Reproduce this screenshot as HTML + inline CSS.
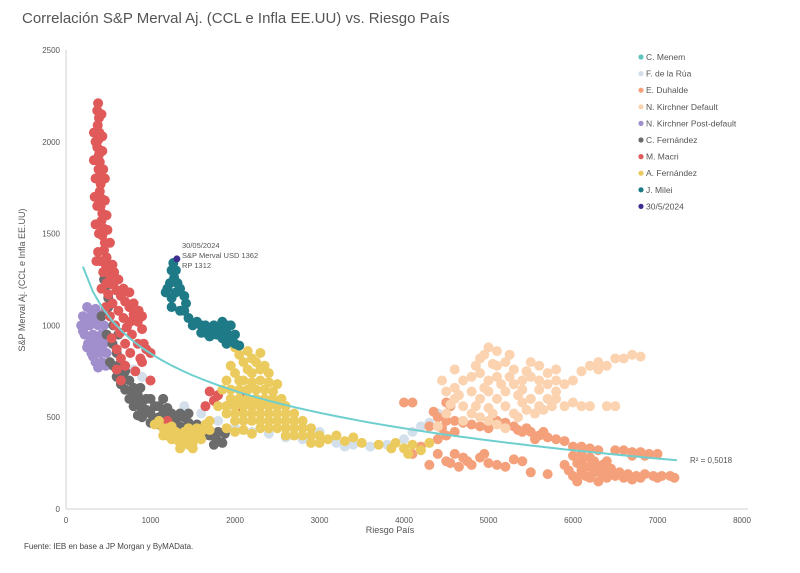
<!DOCTYPE html>
<html><head><meta charset="utf-8"><style>
body{margin:0;background:#fff;}
svg{display:block;font-family:"Liberation Sans",sans-serif;}
</style></head><body>
<svg id="chart" width="800" height="573">
<text x="22" y="23" font-size="15" fill="#555">Correlación S&amp;P Merval Aj. (CCL e Infla EE.UU) vs. Riesgo País</text>
<g id="axes"></g><g id="marks"></g><g id="legend"></g>
<text x="182" y="248" font-size="7.5" fill="#555">30/05/2024</text>
<text x="182" y="258" font-size="7.5" fill="#555">S&amp;P Merval USD 1362</text>
<text x="182" y="268" font-size="7.5" fill="#555">RP 1312</text>
<text x="690" y="463" font-size="8" fill="#555">R² = 0,5018</text>
<text x="390" y="533" font-size="9" fill="#555" text-anchor="middle">Riesgo País</text>
<text transform="translate(25,280) rotate(-90)" font-size="9" fill="#555" text-anchor="middle">S&amp;P Merval Aj. (CCL e Infla EE.UU)</text>
<text x="24" y="549" font-size="8" fill="#444">Fuente: IEB en base a JP Morgan y ByMAData.</text>
</svg>
<script>
const xTicks=[0,1000,2000,3000,4000,5000,6000,7000,8000];
const yTicks=[0,500,1000,1500,2000,2500];
const seriesNames=["C. Menem","F. de la Rúa","E. Duhalde","N. Kirchner Default","N. Kirchner Post-default","C. Fernández","M. Macri","A. Fernández","J. Milei","30/5/2024"];
const seriesColors=["#5fc4c0","#d3e0ec","#f4a07a","#fbd3b0","#a08fcc","#6b6b6b","#e05a5a","#ebcb5e","#1e7a86","#3c2f8f"];
const menem=[];
const rua=[[900,720],[1000,700],[800,760],[1400,560],[1600,520],[1800,480],[2000,440],[2200,420],[2400,410],[2600,390],[2800,380],[3200,360],[3400,350],[3600,340],[4000,380],[4100,420],[4200,450],[4300,470],[4400,520],[3000,420],[3800,350],[3300,340]];
const duhalde=[[4000,580],[4100,580],[4500,580],[4550,560],[4350,530],[4400,500],[4500,480],[4300,450],[4450,440],[4600,480],[4700,470],[4800,460],[4900,450],[5000,440],[5100,480],[5200,470],[5300,450],[5400,420],[5500,420],[5600,400],[5700,390],[5800,380],[5900,370],[6000,340],[6100,340],[6200,330],[6300,320],[6500,320],[6600,320],[6700,310],[6800,310],[6900,300],[7000,300],[6000,290],[6100,260],[6200,230],[6300,220],[6400,200],[6150,180],[6250,200],[6350,180],[6450,220],[6550,200],[6650,190],[6750,180],[6850,190],[6950,180],[7050,180],[7150,180],[5950,210],[6050,150],[6300,150],[6500,180],[6700,160],[4300,240],[4500,260],[4700,280],[4800,240],[4900,280],[5000,250],[5100,240],[5200,230],[5500,200],[5700,190],[4400,300],[4600,300],[4200,340],[4100,300],[5300,270],[5900,240],[6100,210],[6000,180],[6200,280],[6400,260],[6100,300],[6050,250],[6150,230],[6250,260],[6350,240],[6200,170],[6100,190],[6400,170],[6600,170],[6800,170],[7000,170],[7200,170],[4550,250],[4650,230],[4750,260],[4950,300],[5400,260],[4500,400],[4600,420],[4400,380],[5350,430],[5450,440],[5550,380],[5650,420],[6700,290],[6850,290]];
const nkDefault=[[5000,880],[5100,860],[4950,840],[5200,800],[5050,790],[4850,780],[5300,760],[5450,750],[5500,720],[5600,700],[5700,680],[5800,700],[5900,680],[5500,800],[5600,780],[4800,720],[4700,700],[4600,660],[4500,640],[4600,600],[4700,560],[4800,520],[4900,500],[5000,480],[5100,460],[5200,440],[5000,550],[5200,560],[5400,580],[5300,520],[5600,560],[5800,600],[6000,580],[6200,560],[6400,560],[6500,560],[6000,700],[6200,780],[6400,780],[6500,820],[6700,840],[6600,820],[6300,800],[5700,600],[5600,650],[5400,650],[5000,640],[4900,600],[5200,640],[5800,640],[4450,700],[4600,760],[5100,720],[5300,680],[5500,600],[4700,480],[4400,450],[4500,520],[6800,830],[5400,700],[5100,600],[4800,640],[4900,740],[5000,700],[5150,680],[5250,720],[5350,620],[5450,540],[5550,520],[5650,540],[5750,560],[5900,560],[6100,560],[5050,520],[4850,560],[4950,660],[5100,780],[5250,840],[4900,820],[5700,740],[5800,760],[5350,500],[4650,620],[4550,570],[6100,750],[6300,760]];
const nkPost=[[250,1100],[350,1090],[200,1050],[300,1050],[400,1060],[180,1000],[280,1000],[380,1000],[450,1000],[220,950],[320,950],[420,950],[260,900],[350,900],[450,900],[300,850],[400,850],[480,850],[350,800],[430,800],[380,770],[470,780],[230,1010],[200,970],[330,1020],[300,1080],[250,1030],[300,920],[400,920],[250,880],[330,870],[420,880],[400,790],[320,830]];
const cfernandez=[[450,1250],[500,1150],[420,1050],[480,950],[550,900],[600,850],[520,800],[650,800],[700,750],[600,720],[750,700],[800,660],[700,650],[850,620],[900,580],[800,560],[950,540],[1000,520],[900,500],[1050,490],[1100,560],[1150,520],[1200,480],[1100,460],[1250,520],[1300,480],[1350,450],[1400,500],[1450,470],[1500,440],[1550,460],[1000,600],[1200,550],[650,680],[750,600],[850,510],[1700,400],[1780,380],[1850,360],[1800,420],[1750,350],[1880,410],[560,1000],[620,950],[500,1100],[460,1200],[560,780],[680,720],[780,640],[880,660],[950,600],[1050,560],[1150,600],[1250,470],[1350,520],[1000,470],[1100,500],[1200,520],[1300,440],[1450,520],[900,540],[820,600]];
const macri=[[380,2210],[370,2170],[390,2130],[375,2090],[395,2050],[380,2010],[370,1970],[390,1930],[400,1890],[385,1850],[395,1810],[410,1770],[400,1730],[420,1690],[410,1650],[430,1610],[420,1570],[440,1530],[430,1490],[460,1450],[450,1410],[480,1370],[470,1330],[500,1300],[440,1290],[530,1260],[480,1230],[560,1220],[420,1200],[600,1190],[500,1170],[650,1160],[700,1130],[550,1120],[470,1100],[750,1100],[620,1080],[800,1060],[520,1050],[680,1040],[850,1020],[580,1000],[720,990],[900,980],[640,960],[780,950],[540,930],[850,900],[700,900],[600,870],[950,870],[760,850],[650,820],[880,820],[700,780],[600,760],[820,750],[650,700],[900,800],[1000,850],[920,900],[1000,700],[330,1900],[430,1950],[340,1700],[460,1800],[350,1550],[480,1600],[380,1400],[520,1450],[360,1350],[330,2050],[420,2150],[1700,640],[1800,620],[1900,560],[2050,540],[2100,600],[1750,590],[2200,560],[1200,480],[1650,560],[350,2000],[430,2030],[350,1800],[440,1850],[370,1650],[460,1680],[390,1500],[490,1520],[400,1350],[550,1330],[570,1290],[620,1250],[680,1200],[750,1180],[800,1120],[860,1080],[760,1020],[900,1050]];
const afernandez=[[2000,880],[2150,860],[2300,850],[2250,800],[2100,800],[1950,780],[2350,780],[2000,740],[2200,740],[2400,740],[1900,700],[2100,700],[2300,700],[2500,680],[1850,650],[2050,650],[2250,650],[2450,640],[1950,600],[2150,600],[2350,600],[2550,600],[1800,560],[2000,560],[2200,560],[2400,560],[2600,560],[1900,520],[2100,520],[2300,520],[2500,520],[2700,520],[2000,480],[2200,480],[2400,480],[2600,480],[2800,480],[2300,440],[2500,440],[2700,440],[2900,440],[2600,400],[2800,400],[3000,400],[1100,480],[1200,440],[1300,420],[1150,400],[1250,380],[1350,360],[1450,350],[1400,420],[1500,400],[1600,380],[1550,440],[1650,460],[1700,430],[1050,460],[1500,330],[1350,330],[1900,440],[2100,430],[2200,410],[3100,380],[3300,370],[3500,360],[3700,350],[3900,360],[3850,330],[4000,330],[4100,350],[4200,320],[4300,360],[4050,300],[3200,400],[2900,360],[2050,840],[2200,820],[2150,760],[2300,760],[2050,700],[2200,690],[2400,690],[1950,650],[2150,650],[2350,650],[2050,600],[2250,600],[2450,600],[1900,560],[2100,560],[2300,560],[2500,560],[2000,520],[2200,520],[2400,520],[2600,520],[2100,480],[2300,480],[2500,480],[2700,480],[2400,440],[2600,440],[2800,440],[2700,400],[2900,400],[1200,400],[1300,380],[1400,380],[1500,360],[1600,420],[1250,450],[1150,440],[1450,440],[1350,400],[1700,480],[2000,420],[3000,360],[3400,390]];
const milei=[[1270,1340],[1250,1300],[1280,1260],[1350,1200],[1200,1200],[1180,1180],[1250,1150],[1300,1180],[1400,1160],[1250,1100],[1400,1080],[1450,1040],[1350,1080],[1500,1000],[1600,960],[1650,1000],[1700,980],[1750,1000],[1800,980],[1850,1020],[1700,940],[1900,960],[1950,1000],[1950,920],[1900,900],[2000,900],[2050,890],[1850,930],[1780,950],[1600,1000],[1550,1020],[1300,1300],[1320,1230],[1230,1230],[1420,1120],[1650,960],[1750,960],[1820,960],[1900,1000],[2000,950]];
const lastPoint=[[1312,1362]];
const trendCoef=[2878,294];
const trendRange=[200,7230];

const NS="http://www.w3.org/2000/svg";
const X0=66,X1=742,Y0=509,Y1=50;
function sx(v){return X0+v/8000*(X1-X0);}
function sy(v){return Y0-v/2500*(Y0-Y1);}
function mk(t,a,p){const e=document.createElementNS(NS,t);for(const k in a)e.setAttribute(k,a[k]);p.appendChild(e);return e;}
const axes=document.getElementById('axes');
let ax=mk('line',{x1:X0,y1:Y0,x2:748,y2:Y0,stroke:'#d0d0d0'},axes);


let ay=mk('line',{x1:X0,y1:Y0,x2:X0,y2:Y1,stroke:'#d0d0d0'},axes);


xTicks.forEach(t=>{const e=mk('text',{x:sx(t),y:Y0+14,'font-size':8,fill:'#555','text-anchor':'middle'},axes);e.textContent=t;

});
yTicks.forEach(t=>{const e=mk('text',{x:X0-6,y:sy(t)+3,'font-size':8,fill:'#555','text-anchor':'end'},axes);e.textContent=t;

});
const marks=document.getElementById('marks');
const all=[menem,rua,duhalde,nkDefault,nkPost,cfernandez,macri,afernandez,milei,lastPoint];
all.forEach((s,i)=>{const g=mk('g',{},marks);


s.forEach(p=>{const c=mk('circle',{cx:sx(p[0]),cy:sy(p[1]),r:i==9?3.5:5,fill:seriesColors[i]},g);

});
if(i==8){let d='';for(let k=0;k<=60;k++){const x=trendRange[0]+(trendRange[1]-trendRange[0])*k/60;const y=trendCoef[0]-trendCoef[1]*Math.log(x);d+=(k?'L':'M')+sx(x).toFixed(1)+','+sy(y).toFixed(1);}
const tl=mk('path',{d:d,fill:'none',stroke:'#6fcfcf','stroke-width':2},marks);

}
});
const lg=document.getElementById('legend');
seriesNames.forEach((n,i)=>{const y=57+i*16.6;const g=mk('g',{},lg);


mk('circle',{cx:641,cy:y,r:2.6,fill:seriesColors[i]},g);const t=mk('text',{x:646,y:y+3,'font-size':8.5,fill:'#555'},g);t.textContent=n;});
</script>
</body></html>
